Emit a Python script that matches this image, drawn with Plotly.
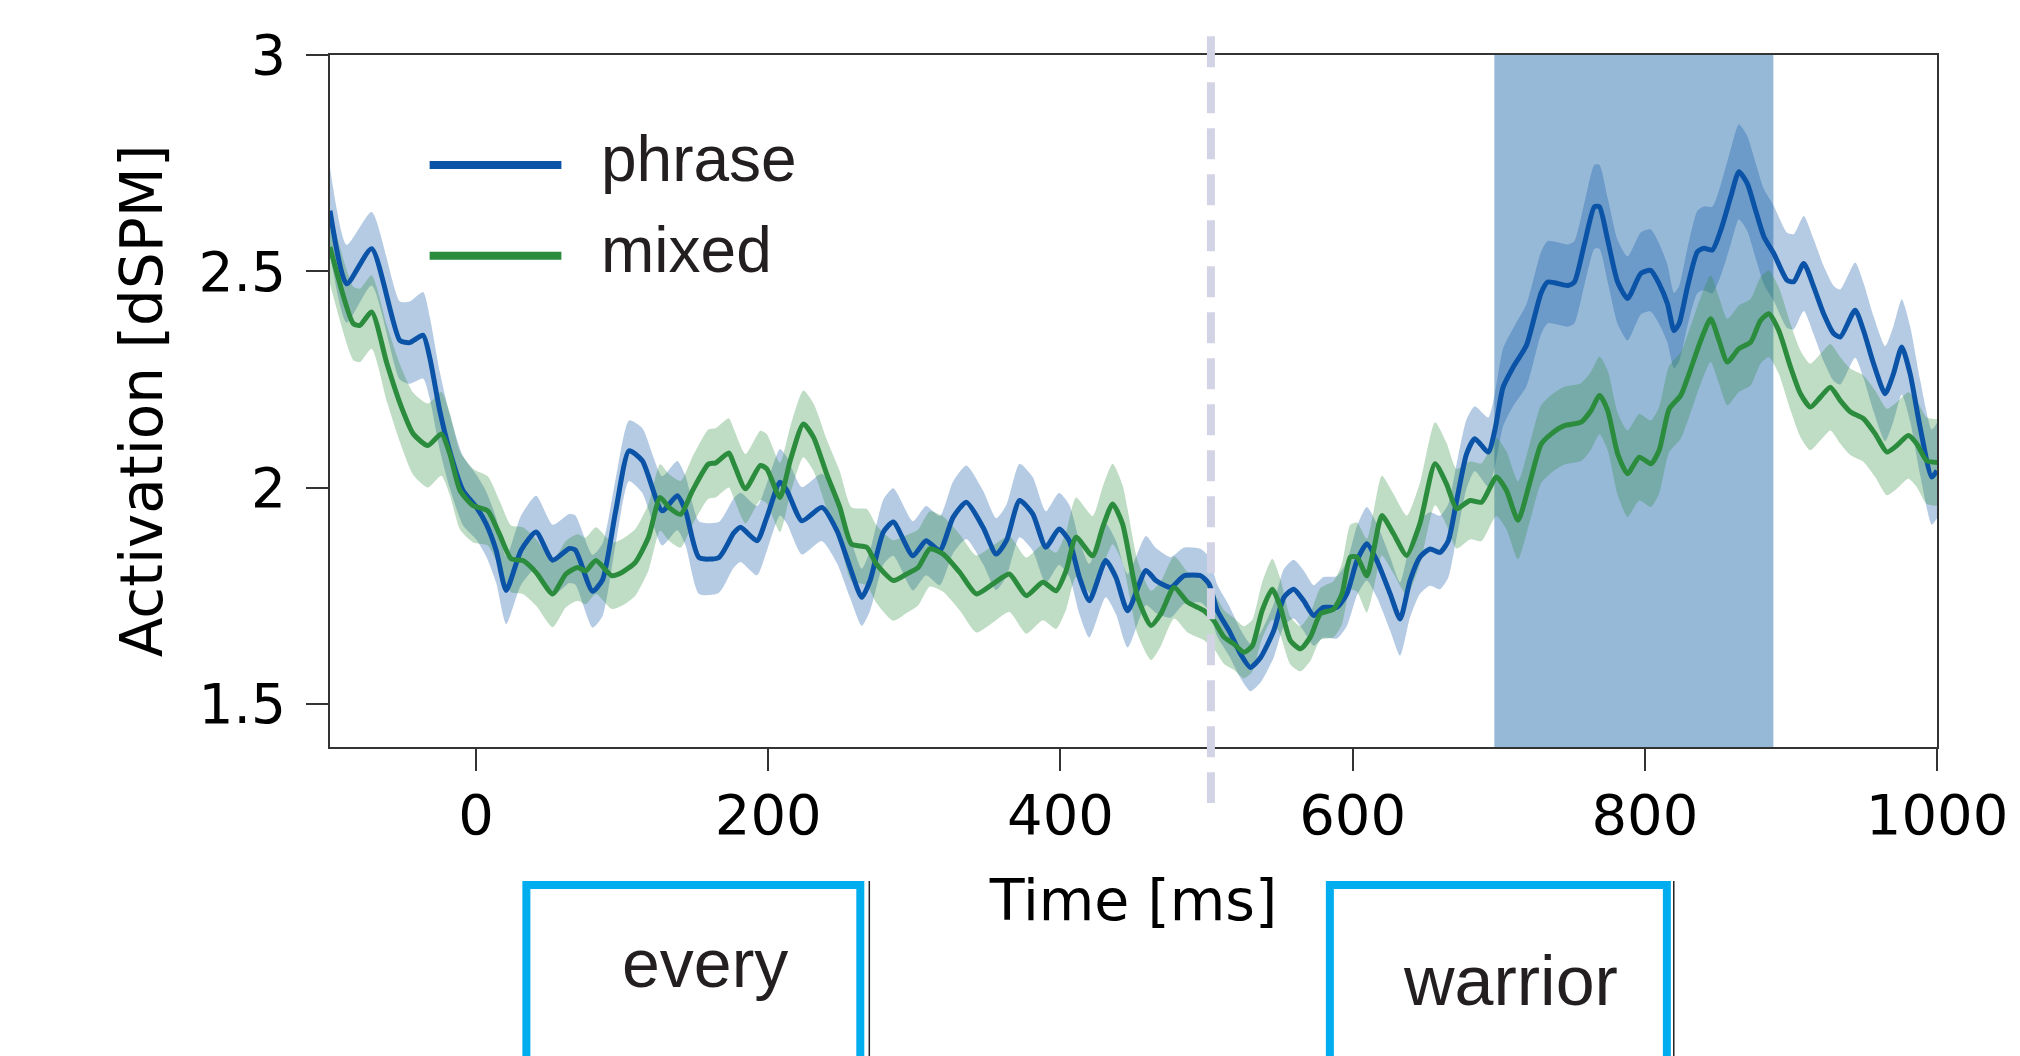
import plotly.graph_objects as go

# ---------------- data ----------------
phrase_t = [-100, -88.6, -71.5, -52.2, -45.5, -36.3, -31.7, -24.9, -18.1, -9, 0.1, 6.9, 13.8, 20.6, 30.8, 41.1, 52.4,
            63.8, 68, 79.7, 86.6, 95.6, 104.7, 113.8, 127.4, 137.7, 143.4, 152.6, 166.1, 176.4, 181, 192.3, 199, 208,
            212.8, 223, 236.7, 247, 256, 264, 269.7, 278.8, 285.6, 299, 308, 317.4, 326.5, 335.6, 347, 356, 363, 372,
            381, 390, 399, 406, 413, 419.8, 431, 438, 446, 458.5, 465.3, 475.5, 484.6, 496, 501.7, 507.4, 515.4, 523.3,
            530, 537, 546, 553, 559.7, 566.5, 573.3, 580, 589.3, 596, 603, 609.7, 616.6, 625.7, 632.5, 639.3, 646, 653,
            659.8, 665.5, 671.2, 678, 683.6, 692.8, 697.3, 703, 710, 719, 729, 733.6, 747.3, 751.8, 758.7, 765.5, 768.9,
            774.6, 781.4, 788.2, 797.3, 804, 809.8, 815.5, 820, 823.5, 829.2, 836, 840.5, 846.2, 852, 858.8, 864.4,
            870.1, 875.8, 881.5, 888.3, 897.4, 902, 908.8, 915.6, 922.4, 929.3, 933.8, 944, 949.7, 956.6, 964.5, 970.2,
            975.9, 981.6, 988.4, 996.4, 1000]
phrase_mean = [2.64, 2.471, 2.552, 2.340, 2.335, 2.352, 2.30, 2.178, 2.085, 1.993, 1.955, 1.916, 1.854, 1.762, 1.855,
               1.897, 1.832, 1.859, 1.855, 1.760, 1.787, 1.946, 2.085, 2.062, 1.946, 1.981, 1.946, 1.838, 1.838, 1.895,
               1.908, 1.877, 1.931, 2.012, 1.993, 1.923, 1.954, 1.9, 1.815, 1.746, 1.785, 1.897, 1.92, 1.842, 1.877,
               1.854, 1.931, 1.966, 1.908, 1.846, 1.877, 1.970, 1.939, 1.862, 1.904, 1.877, 1.792, 1.738, 1.831, 1.792,
               1.715, 1.808, 1.785, 1.769, 1.796, 1.796, 1.777, 1.715, 1.669, 1.615, 1.584, 1.607, 1.669, 1.746, 1.765,
               1.738, 1.704, 1.723, 1.723, 1.754, 1.831, 1.87, 1.831, 1.754, 1.696, 1.785, 1.839, 1.858, 1.850, 1.877,
               1.970, 2.078, 2.113, 2.082, 2.132, 2.232, 2.279, 2.329, 2.45, 2.475, 2.467, 2.475, 2.564, 2.649, 2.649,
               2.572, 2.475, 2.437, 2.495, 2.502, 2.471, 2.425, 2.363, 2.379, 2.464, 2.545, 2.553, 2.549, 2.595, 2.672,
               2.730, 2.703, 2.641, 2.580, 2.541, 2.479, 2.476, 2.518, 2.464, 2.402, 2.356, 2.348, 2.410, 2.363, 2.286,
               2.217, 2.263, 2.325, 2.263, 2.140, 2.024, 2.039]
phrase_sem = [0.10, 0.09, 0.085, 0.09, 0.095, 0.10, 0.095, 0.09, 0.085, 0.08, 0.075, 0.075, 0.075, 0.078, 0.08, 0.084,
              0.082, 0.08, 0.08, 0.084, 0.084, 0.075, 0.07, 0.075, 0.08, 0.08, 0.08, 0.084, 0.082, 0.08, 0.08, 0.08,
              0.078, 0.077, 0.077, 0.078, 0.078, 0.075, 0.07, 0.066, 0.07, 0.075, 0.078, 0.08, 0.08, 0.08, 0.083, 0.085,
              0.085, 0.083, 0.083, 0.085, 0.085, 0.083, 0.083, 0.083, 0.085, 0.085, 0.085, 0.085, 0.085, 0.08, 0.075,
              0.07, 0.065, 0.062, 0.062, 0.06, 0.058, 0.056, 0.055, 0.058, 0.062, 0.066, 0.068, 0.07, 0.07, 0.07, 0.072,
              0.075, 0.08, 0.085, 0.085, 0.085, 0.085, 0.085, 0.085, 0.085, 0.085, 0.085, 0.085, 0.08, 0.075, 0.08,
              0.085, 0.09, 0.09, 0.095, 0.095, 0.095, 0.095, 0.095, 0.095, 0.097, 0.097, 0.097, 0.097, 0.097, 0.095,
              0.095, 0.093, 0.09, 0.087, 0.087, 0.09, 0.095, 0.097, 0.1, 0.105, 0.11, 0.11, 0.11, 0.11, 0.11, 0.11,
              0.11, 0.11, 0.11, 0.11, 0.11, 0.11, 0.11, 0.11, 0.11, 0.11, 0.11, 0.11, 0.11, 0.11, 0.11, 0.11, 0.11]

mixed_t = [-100, -84, -79.5, -71.5, -61, -52, -43, -33, -23.8, -18, -11, -2, 8, 16, 24, 32, 41, 52.4, 61.5, 69.5, 75, 82,
           93, 100, 109, 118, 126, 132, 140, 148, 159, 164, 173, 176.4, 184.4, 194.6, 199, 208, 215, 224, 231, 240, 249,
           257, 267.4, 274, 285.6, 294.7, 302.6, 310.6, 319.7, 331, 342.4, 353.8, 365, 376.6, 388, 397, 403.9, 410.7,
           422, 428.9, 435.7, 442.5, 452.8, 462, 468.7, 477.8, 487, 498.3, 505, 512, 518.8, 525.6, 531.3, 538, 545,
           550.6, 557.4, 564.3, 571, 578, 587, 592.7, 598.4, 603, 609.7, 614.3, 620, 628, 637, 646, 656.4, 664.3, 671.2,
           680.3, 688.2, 698.4, 705.3, 713.2, 721, 729, 736, 745, 756.4, 763.2, 769, 774.6, 781.4, 788.2, 796.2, 804.2,
           809.8, 816.7, 824.6, 830.3, 838.3, 845.1, 850.8, 856.5, 864.4, 872.4, 879.2, 884.9, 891.7, 899.7, 906.5,
           913.3, 920.2, 927, 933.8, 940.6, 949.7, 957.7, 965.7, 972.5, 980.4, 986.1, 992.9, 1000]
mixed_mean = [2.556, 2.379, 2.375, 2.406, 2.286, 2.194, 2.124, 2.097, 2.124, 2.078, 1.993, 1.958, 1.946, 1.892, 1.835,
              1.831, 1.804, 1.754, 1.800, 1.815, 1.807, 1.831, 1.796, 1.804, 1.827, 1.885, 1.977, 1.954, 1.938, 1.992,
              2.054, 2.057, 2.08, 2.055, 1.997, 2.051, 2.043, 1.977, 2.062, 2.147, 2.116, 2.031, 1.954, 1.869, 1.862,
              1.823, 1.785, 1.8, 1.815, 1.858, 1.846, 1.804, 1.754, 1.777, 1.8, 1.75, 1.781, 1.761, 1.808, 1.885, 1.842,
              1.908, 1.962, 1.916, 1.746, 1.681, 1.708, 1.769, 1.735, 1.715, 1.692, 1.654, 1.638, 1.619, 1.634, 1.715,
              1.765, 1.723, 1.646, 1.627, 1.654, 1.708, 1.719, 1.754, 1.839, 1.839, 1.796, 1.854, 1.935, 1.893, 1.843,
              1.916, 2.055, 2.008, 1.951, 1.970, 1.966, 2.024, 1.993, 1.924, 2.008, 2.10, 2.124, 2.143, 2.151, 2.178,
              2.213, 2.178, 2.078, 2.032, 2.070, 2.055, 2.086, 2.182, 2.213, 2.263, 2.340, 2.390, 2.340, 2.290, 2.321,
              2.336, 2.386, 2.402, 2.363, 2.279, 2.217, 2.186, 2.209, 2.232, 2.201, 2.175, 2.159, 2.124, 2.082, 2.097,
              2.120, 2.101, 2.062, 2.058]
mixed_sem = [0.085, 0.085, 0.085, 0.085, 0.088, 0.09, 0.095, 0.097, 0.097, 0.095, 0.09, 0.085, 0.08, 0.078, 0.077,
             0.077, 0.077, 0.077, 0.077, 0.077, 0.077, 0.077, 0.077, 0.077, 0.077, 0.077, 0.077, 0.077, 0.077, 0.078,
             0.08, 0.08, 0.08, 0.08, 0.08, 0.08, 0.08, 0.08, 0.078, 0.077, 0.078, 0.08, 0.083, 0.085, 0.088, 0.09,
             0.093, 0.09, 0.088, 0.087, 0.087, 0.088, 0.089, 0.089, 0.088, 0.088, 0.088, 0.088, 0.09, 0.092, 0.092,
             0.093, 0.093, 0.09, 0.085, 0.08, 0.075, 0.072, 0.07, 0.068, 0.065, 0.062, 0.06, 0.06, 0.06, 0.065, 0.07,
             0.065, 0.055, 0.052, 0.055, 0.06, 0.065, 0.07, 0.075, 0.08, 0.085, 0.09, 0.092, 0.092, 0.092, 0.094,
             0.096, 0.095, 0.092, 0.09, 0.09, 0.09, 0.09, 0.09, 0.09, 0.09, 0.09, 0.09, 0.09, 0.09, 0.09, 0.092, 0.095,
             0.1, 0.1, 0.1, 0.1, 0.1, 0.1, 0.1, 0.1, 0.1, 0.1, 0.1, 0.1, 0.1, 0.1, 0.1, 0.1, 0.1, 0.1, 0.1, 0.1, 0.1,
             0.1, 0.1, 0.1, 0.1, 0.1, 0.1, 0.1, 0.1, 0.1, 0.1]

series_names = ["phrase", "mixed"]
x_ticks = [0, 200, 400, 600, 800, 1000]
y_ticks = [1.5, 2, 2.5, 3]
y_tick_text = ["1.5", "2", "2.5", "3"]
x_range = [-100, 1000]
y_range = [1.4, 3.0]
window_ms = [697, 888]          # highlighted time window
word_onset_ms = 503             # dashed onset line
words = ["every", "warrior"]

# ---------------- styling ----------------
BLUE = "#0B53A6"
GREEN = "#2B8C3D"
BLUE_FILL = "rgba(11,83,166,0.3)"
GREEN_FILL = "rgba(43,140,61,0.3)"
AX = "#333333"
MPL_FONT = "DejaVu Sans"
AI_FONT = "Liberation Sans"
TXT = "#231F20"

fig = go.Figure()


def add_band(t, m, s, fill):
    up = [a + b for a, b in zip(m, s)]
    lo = [a - b for a, b in zip(m, s)]
    fig.add_trace(go.Scatter(x=t, y=up, mode="lines", line=dict(width=0, shape="spline", smoothing=0.6),
                             showlegend=False, hoverinfo="skip"))
    fig.add_trace(go.Scatter(x=t, y=lo, mode="lines", line=dict(width=0, shape="spline", smoothing=0.6),
                             fill="tonexty", fillcolor=fill, showlegend=False, hoverinfo="skip"))


add_band(phrase_t, phrase_mean, phrase_sem, BLUE_FILL)
add_band(mixed_t, mixed_mean, mixed_sem, GREEN_FILL)
fig.add_trace(go.Scatter(x=phrase_t, y=phrase_mean, mode="lines", name=series_names[0],
                         line=dict(color=BLUE, width=5, shape="spline", smoothing=0.6), showlegend=False))
fig.add_trace(go.Scatter(x=mixed_t, y=mixed_mean, mode="lines", name=series_names[1],
                         line=dict(color=GREEN, width=5, shape="spline", smoothing=0.6), showlegend=False))

# highlighted window (below the traces)
fig.add_vrect(x0=window_ms[0], x1=window_ms[1], fillcolor="#97B9D8", opacity=1, line_width=0, layer="below")

# dashed onset line, extending beyond the axes
onset_px = (word_onset_ms - x_range[0]) / (x_range[1] - x_range[0])
fig.add_shape(type="line", xref="paper", yref="paper", x0=onset_px, x1=onset_px, y0=1.027, y1=-0.081,
              line=dict(color="#D3D3E6", width=8, dash="31px,15px"), layer="above")

# legend (drawn manually to match the long line samples)
for name, col, ly in [(series_names[0], BLUE, 0.841), (series_names[1], GREEN, 0.710)]:
    fig.add_shape(type="line", xref="paper", yref="paper", x0=0.062, x1=0.144, y0=ly, y1=ly,
                  line=dict(color=col, width=8))
    fig.add_annotation(xref="paper", yref="paper", x=0.1675, y=ly + 0.008, text=name, showarrow=False,
                       xanchor="left", yanchor="middle", font=dict(family=AI_FONT, size=64, color=TXT))

# word boxes below the axis
for word, (bx0, bx1), tx, ty, fs, edge in [(words[0], (0.1222, 0.330), 0.2336, -0.3125, 68, 0.3356),
                                           (words[1], (0.6222, 0.8319), 0.7345, -0.3375, 70, 0.8362)]:
    fig.add_shape(type="rect", xref="paper", yref="paper", x0=bx0, x1=bx1, y0=-0.1994, y1=-0.70,
                  line=dict(color="#00AEEF", width=8), fillcolor="rgba(0,0,0,0)")
    fig.add_shape(type="line", xref="paper", yref="paper", x0=edge, x1=edge, y0=-0.1936, y1=-0.70,
                  line=dict(color="#222222", width=1.5))
    fig.add_annotation(xref="paper", yref="paper", x=tx, y=ty, text=word, showarrow=False,
                       xanchor="center", yanchor="middle", font=dict(family=AI_FONT, size=fs, color=TXT))

axis_common = dict(showline=True, linecolor=AX, linewidth=2, mirror=True, showgrid=False, zeroline=False,
                   ticks="outside", ticklen=22, tickwidth=2, tickcolor=AX)

fig.update_xaxes(range=x_range, tickvals=x_ticks, ticklabelstandoff=-4,
                 tickfont=dict(family=MPL_FONT, size=56, color="black"),
                 title=dict(text="Time [ms]", font=dict(family=MPL_FONT, size=57, color="black"), standoff=34),
                 **axis_common)
fig.update_yaxes(range=y_range, tickvals=y_ticks, ticktext=y_tick_text, ticklabelstandoff=9,
                 tickfont=dict(family=MPL_FONT, size=55, color="black"),
                 title=dict(text="Activation [dSPM]", font=dict(family=MPL_FONT, size=58, color="black"),
                            standoff=17),
                 **axis_common)

fig.update_layout(width=2020, height=1056, autosize=False,
                  margin=dict(l=330, r=74, t=55, b=309, pad=0),
                  plot_bgcolor="white", paper_bgcolor="white", showlegend=False)

fig.write_html("out.html", config={"displayModeBar": False},
               post_script="document.body.style.margin='0';")
